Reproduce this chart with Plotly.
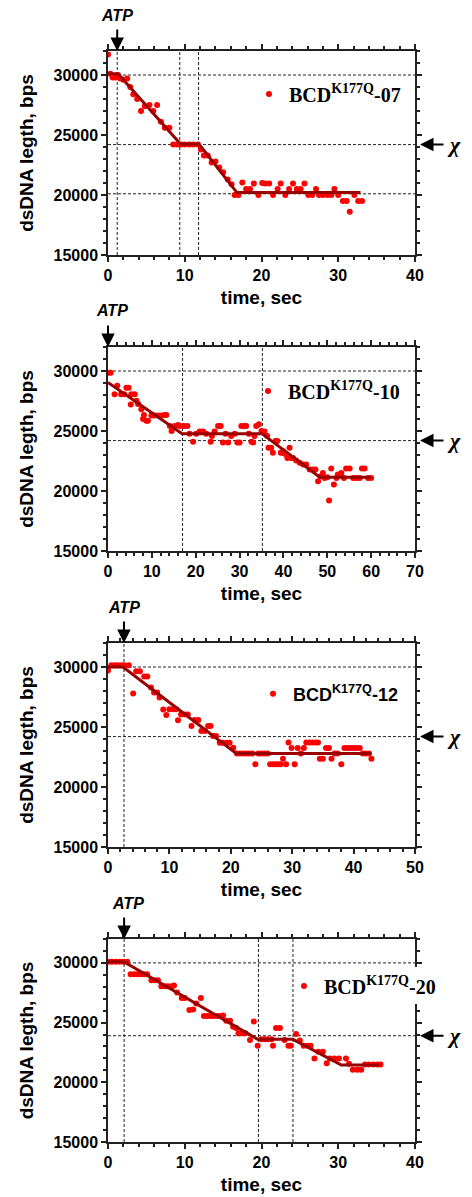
import plotly.graph_objects as go

# ---------------- data ----------------
# Panel 1: BCD K177Q-07
t1 = [0.0, 0.3, 0.6, 1.0, 1.3, 1.6, 2.0, 2.5, 2.9, 3.3, 3.8, 4.3, 4.8, 5.4, 5.9, 6.4, 6.9, 7.4, 8.0,
      8.5, 9.0, 9.5, 10.0, 10.6, 11.1, 11.7, 12.1, 12.5, 13.0, 13.5, 14.0, 14.5, 15.0, 15.6, 16.1,
      16.5, 17.0, 17.5, 18.0, 18.5, 19.0, 19.6, 20.1, 20.5, 21.0, 21.5, 22.1, 22.5, 23.1, 23.6,
      24.1, 24.6, 25.1, 25.6, 26.1, 26.6, 27.1, 27.5, 28.0, 28.6, 29.1, 29.5, 30.0, 30.6, 31.1,
      31.5, 32.1, 32.6, 33.1]
v1 = [31700, 30100, 29800, 29800, 30000, 29700, 29600, 29700, 29000, 28400, 28000, 27000, 27400,
      27500, 27000, 27500, 26100, 25600, 25600, 24200, 24200, 24200, 24200, 24200, 24200, 24200,
      23800, 23300, 23300, 22700, 22800, 22300, 21900, 21300, 20900, 20000, 20000, 21050, 20500,
      20500, 20950, 20000, 21000, 20950, 20950, 20000, 20500, 20950, 20000, 20500, 20950, 20500,
      20500, 20950, 20000, 20000, 20500, 20000, 20000, 20000, 20000, 20500, 20000, 19500, 19500,
      18600, 20000, 19500, 19500]
fit_t1 = [0, 1.3, 9.45, 11.85, 16.8, 32.9]
fit_v1 = [30100, 30100, 24250, 24250, 20200, 20200]
hlines1 = [30000, 24200, 20100]
vlines1 = [1.2, 9.35, 11.8]
atp1 = 1.2
chi1 = 24200
label1 = "BCD<sup>K177Q</sup>-07"

# Panel 2: BCD K177Q-10
t2 = [0, 0.6, 1.5, 2.1, 3.0, 3.7, 4.2, 4.7, 5.2, 5.3, 6.1, 6.5, 6.85, 7.6, 8.0, 8.2, 8.75, 9.1, 9.9,
      10.6, 11.4, 12.2, 12.9, 13.3, 14.1, 14.5, 15.2, 16.0, 16.35, 17.3, 18.1, 18.6, 19.4, 20.1,
      20.9, 21.7, 22.4, 23.4, 23.7, 24.3, 25.1, 25.7, 26.2, 26.8, 27.4, 28.1, 28.9, 29.5, 30.0,
      30.4, 31.0, 31.5, 32.1, 32.7, 33.1, 33.4, 33.8, 34.4, 35.0, 35.7, 36.3, 36.6, 37.2, 37.6,
      38.2, 38.6, 39.4, 39.9, 40.3, 40.9, 41.4, 41.8, 42.2, 42.9, 43.7, 44.5, 45.2, 46.0, 46.7,
      47.3, 47.9, 48.5, 49.0, 49.4, 50.0, 50.4, 50.9, 51.5, 52.1, 52.4, 53.2, 53.8, 54.3, 55.1,
      55.9, 56.6, 57.4, 57.9, 58.5, 59.3, 60.0]
v2 = [29850, 29850, 28070, 28770, 28070, 28070, 28600, 28600, 27200, 28070, 28070, 27520, 27240,
      26820, 26000, 26330, 25860, 25860, 26300, 26300, 26300, 26300, 26330, 26330, 25420, 25000,
      25420, 25500, 25420, 25420, 25420, 24780, 24110, 24780, 24960, 24960, 24780, 24110, 24580,
      24960, 25420, 25420, 24050, 24780, 24050, 24580, 24780, 24050, 24050, 25420, 25420, 25420,
      24780, 24110, 24050, 24580, 25420, 25560, 25000, 24960, 24580, 23600, 23600, 23180, 24160,
      24160, 23180, 23320, 23100, 22760, 23600, 22760, 22760, 22540, 22350, 22200, 22200, 21790,
      21790, 21790, 20820, 21230, 21510, 21090, 21140, 19200, 21880, 20540, 21090, 21370, 21510,
      21090, 21880, 21880, 21090, 21090, 21090, 21880, 21880, 21090, 21090]
fit_t2 = [0, 16.9, 35.1, 48.3, 60]
fit_v2 = [29050, 24780, 24780, 21140, 21140]
hlines2 = [30000, 24200]
vlines2 = [17.0, 35.2]
atp2 = 0.0
chi2 = 24200
label2 = "BCD<sup>K177Q</sup>-10"

# Panel 3: BCD K177Q-12
t3 = [0, 0.55, 1.1, 1.6, 2.2, 2.7, 3.4, 4.1, 4.6, 5.2, 5.9, 6.4, 7.0, 7.5, 8.0, 8.4, 9.0, 9.5, 10.0,
      10.6, 11.1, 11.4, 11.9, 12.5, 13.0, 13.6, 14.1, 14.7, 15.2, 15.8, 16.3, 16.7, 17.1, 17.6,
      18.2, 18.7, 19.3, 19.8, 20.4, 21.0, 21.5, 22.0, 22.5, 23.0, 23.5, 24.0, 24.5, 25.0, 25.5,
      26.0, 26.4, 26.9, 27.3, 27.7, 28.1, 28.5, 29.0, 29.4, 29.9, 30.4, 30.9, 31.4, 31.9, 32.3,
      32.8, 33.3, 33.8, 34.2, 34.5, 35.0, 35.5, 36.0, 36.4, 36.9, 37.4, 38.0, 38.5, 39.0, 39.5,
      40.0, 40.5, 41.0, 41.5, 42.0, 42.5, 42.9]
v3 = [29700, 30150, 30150, 30150, 30150, 30150, 30150, 27800, 29650, 29650, 29200, 29200, 28300,
      27880, 27880, 27460, 26450, 26000, 26480, 26480, 26480, 25560, 26050, 26050, 26050, 25080,
      25580, 25580, 24660, 24660, 25080, 25080, 24250, 24250, 23690, 23690, 23690, 23690, 23265,
      22800, 22800, 22800, 22800, 22800, 22800, 21900, 22800, 22800, 22800, 22800, 21900, 21900,
      21900, 21900, 21900, 22350, 21900, 23700, 23250, 21900, 23250, 22800, 23250, 23700, 23700,
      23700, 23700, 23700, 22350, 22350, 23250, 23250, 22350, 22800, 22800, 21900, 23250, 23250,
      23250, 23250, 23250, 23250, 22800, 22800, 22800, 22350]
fit_t3 = [0, 2.45, 20.9, 42.9]
fit_v3 = [30000, 30000, 22800, 22800]
hlines3 = [30000, 24200]
vlines3 = [2.6]
atp3 = 2.6
chi3 = 24200
label3 = "BCD<sup>K177Q</sup>-12"

# Panel 4: BCD K177Q-20
t4 = [0, 0.5, 1.0, 1.5, 2.0, 2.5, 2.95, 3.4, 3.8, 4.3, 4.7, 5.1, 5.65, 6.1, 6.5, 6.95, 7.4, 7.8, 8.3,
      8.6, 9.0, 9.6, 10.0, 10.6, 11.1, 11.5, 12.1, 12.5, 12.95, 13.4, 13.8, 14.25, 14.7, 15.0,
      15.4, 15.9, 16.3, 16.7, 17.0, 17.5, 17.9, 18.5, 19.0, 19.5, 20.0, 20.4, 20.8, 21.3, 21.5,
      21.9, 22.4, 23.0, 23.5, 23.8, 24.5, 25.0, 25.5, 26.0, 26.4, 26.9, 27.4, 28.0, 28.5, 28.9,
      29.5, 30.1, 31.0, 31.4, 31.9, 32.5, 33.0, 33.5, 34.0, 34.6, 35.1, 35.5]
v4 = [30100, 30100, 30100, 30100, 30100, 30100, 29050, 29050, 29050, 29050, 29050, 29050, 28550,
      28550, 28550, 28050, 28050, 28050, 28050, 28100, 27520, 27050, 27050, 26050, 26100, 26600,
      27050, 25550, 25550, 25550, 25550, 25550, 25550, 25600, 25150, 25150, 24650, 24550, 24100,
      24100, 24100, 23550, 25100, 23050, 23600, 23600, 23600, 23600, 23050, 24550, 24550, 23550,
      23050, 23050, 24050, 23500, 23050, 23050, 23050, 22000, 22550, 22550, 21600, 22000, 22000,
      22000, 22000, 21550, 21050, 21050, 21050, 21500, 21500, 21500, 21500, 21500]
fit_t4 = [0, 2.05, 19.5, 24.1, 30.4, 35.4]
fit_v4 = [30100, 30100, 23600, 23600, 21450, 21450]
hlines4 = [30000, 23900]
vlines4 = [2.1, 19.6, 24.1]
atp4 = 2.1
chi4 = 23900
label4 = "BCD<sup>K177Q</sup>-20"

x_max = [40, 70, 50, 40]
y_range = [15000, 32000]
x_title = "time, sec"
y_title = "dsDNA legth, bps"

# ---------------- layout ----------------
# the page body adds an 8px margin, so the figure is 8px smaller and offsets are page-8
OFF = 8
W, H = 472 - OFF, 1197 - OFF
ML, MR, MT, MB = 108 - OFF, 57, 51 - OFF, 55
PW = W - ML - MR
PH = H - MT - MB
tops = [51, 347, 643, 939]          # page pixels
heights = [204, 204, 204, 203]


def py(pix):
    return 1 - (pix - OFF - MT) / PH


def px(pix):
    return (pix - OFF - ML) / PW


panels = [
    (t1, v1, fit_t1, fit_v1, hlines1, vlines1, atp1, chi1, label1),
    (t2, v2, fit_t2, fit_v2, hlines2, vlines2, atp2, chi2, label2),
    (t3, v3, fit_t3, fit_v3, hlines3, vlines3, atp3, chi3, label3),
    (t4, v4, fit_t4, fit_v4, hlines4, vlines4, atp4, chi4, label4),
]
legend_marker_px = [(269, 94), (268, 391), (273, 694), (304, 986)]
legend_fonts = ["Liberation Serif", "Liberation Serif", "Liberation Sans", "Liberation Serif"]
legend_sizes = [20, 20, 18, 20]
atp_text_shift = [0, 4, 0, 4]

AX = "#222222"
fig = go.Figure()
shapes = []
annotations = []
layout = dict(
    width=W, height=H, margin=dict(l=ML, r=MR, t=MT, b=MB, autoexpand=False),
    paper_bgcolor="white", plot_bgcolor="white", showlegend=True,
)

for i, (t, v, ft, fv, hl, vl, atp, chi, label) in enumerate(panels):
    n = i + 1
    sx = "" if n == 1 else str(n)
    so = str(n + 4)
    xa, ya = "x" + sx, "y" + sx
    lg = "legend" + sx
    fig.add_trace(go.Scatter(
        x=t, y=v, mode="markers", name=label, legend=lg,
        marker=dict(color="#ff0000", size=6), xaxis=xa, yaxis=ya, showlegend=True))
    fig.add_trace(go.Scatter(
        x=ft, y=fv, mode="lines", line=dict(color="#990000", width=3),
        xaxis=xa, yaxis=ya, showlegend=False))

    top = tops[i]
    dom = [py(top + heights[i]), py(top)]
    common = dict(
        showline=True, linewidth=1.5, linecolor=AX, mirror="allticks",
        ticks="outside", ticklen=5, tickwidth=1.5, tickcolor=AX,
        showgrid=False, zeroline=False, tickformat="d",
        tickfont=dict(family="Liberation Sans", size=16, color="black", weight="bold"),
    )
    layout["xaxis" + sx] = dict(
        common, domain=[0, 1], anchor=ya, range=[0, x_max[i]], dtick=10, tick0=0,
        minor=dict(dtick=2, ticklen=3, tickwidth=1.5, tickcolor=AX, ticks="outside", showgrid=False),
        title=dict(text=x_title, standoff=8,
                   font=dict(family="Liberation Sans", size=19, color="black", weight="bold")),
        automargin=False,
    )
    layout["yaxis" + sx] = dict(
        common, domain=dom, anchor=xa, range=y_range, dtick=5000, tick0=0,
        minor=dict(dtick=1000, ticklen=3, tickwidth=1.5, tickcolor=AX, ticks="outside", showgrid=False),
        title=dict(text=y_title, standoff=15,
                   font=dict(family="Liberation Sans", size=19, color="black", weight="bold")),
        automargin=False,
    )
    # inner halves of the crossing ticks on top and right
    inner = dict(showline=False, showgrid=False, zeroline=False, showticklabels=False,
                 ticks="inside", ticklen=5, tickwidth=1.5, tickcolor=AX, automargin=False)
    layout["xaxis" + so] = dict(
        inner, overlaying=xa, side="top", anchor=ya, range=[0, x_max[i]], dtick=10, tick0=0,
        minor=dict(dtick=2, ticklen=3, tickwidth=1.5, tickcolor=AX, ticks="inside", showgrid=False))
    layout["yaxis" + so] = dict(
        inner, overlaying=ya, side="right", anchor=xa, range=y_range, dtick=5000, tick0=0,
        minor=dict(dtick=1000, ticklen=3, tickwidth=1.5, tickcolor=AX, ticks="inside", showgrid=False))

    for h in hl:
        shapes.append(dict(type="line", xref=xa + " domain", yref=ya, x0=0, x1=1, y0=h, y1=h,
                           line=dict(color=AX, width=1, dash="3px,2px"), layer="below"))
    for vv in vl:
        shapes.append(dict(type="line", xref=xa, yref=ya + " domain", x0=vv, x1=vv, y0=0, y1=1,
                           line=dict(color=AX, width=1, dash="3px,2px"), layer="below"))

    # ATP arrow + label
    annotations.append(dict(x=atp, xref=xa, y=1, yref=ya + " domain", text="", showarrow=True,
                            ax=0, ay=-23, arrowhead=2, arrowsize=1.35, arrowwidth=2,
                            arrowcolor="black"))
    annotations.append(dict(x=atp, xref=xa, y=1, yref=ya + " domain", text="<b><i>ATP</i></b>",
                            showarrow=False, xanchor="center", yanchor="middle",
                            xshift=atp_text_shift[i], yshift=36,
                            font=dict(family="Liberation Sans", size=16, color="black")))
    # chi arrow + label
    annotations.append(dict(x=1 + 5 / PW, xref=xa + " domain", y=chi, yref=ya, text="",
                            showarrow=True, ax=25, ay=0, arrowhead=2, arrowsize=1.35,
                            arrowwidth=2, arrowcolor="black"))
    annotations.append(dict(x=1 + 39 / PW, xref=xa + " domain", y=chi, yref=ya,
                            text="<b><i>χ</i></b>", showarrow=False, xanchor="center",
                            yanchor="middle",
                            font=dict(family="Liberation Serif", size=22, color="black")))

    mx, my = legend_marker_px[i]
    layout[lg] = dict(
        x=px(mx - 20), y=py(my), xanchor="left", yanchor="middle",
        bgcolor="rgba(0,0,0,0)", borderwidth=0,
        font=dict(family=legend_fonts[i], size=legend_sizes[i], color="black", weight="bold"),
        itemwidth=30,
    )

# panel 4: legend box interrupts the right axis
shapes.append(dict(type="rect", xref="paper", yref="paper", x0=px(411), x1=px(422),
                   y0=py(1004), y1=py(967), fillcolor="white", line=dict(width=0), layer="above"))

layout["shapes"] = shapes
layout["annotations"] = annotations
fig.update_layout(**layout)
fig.write_html("out.html")
